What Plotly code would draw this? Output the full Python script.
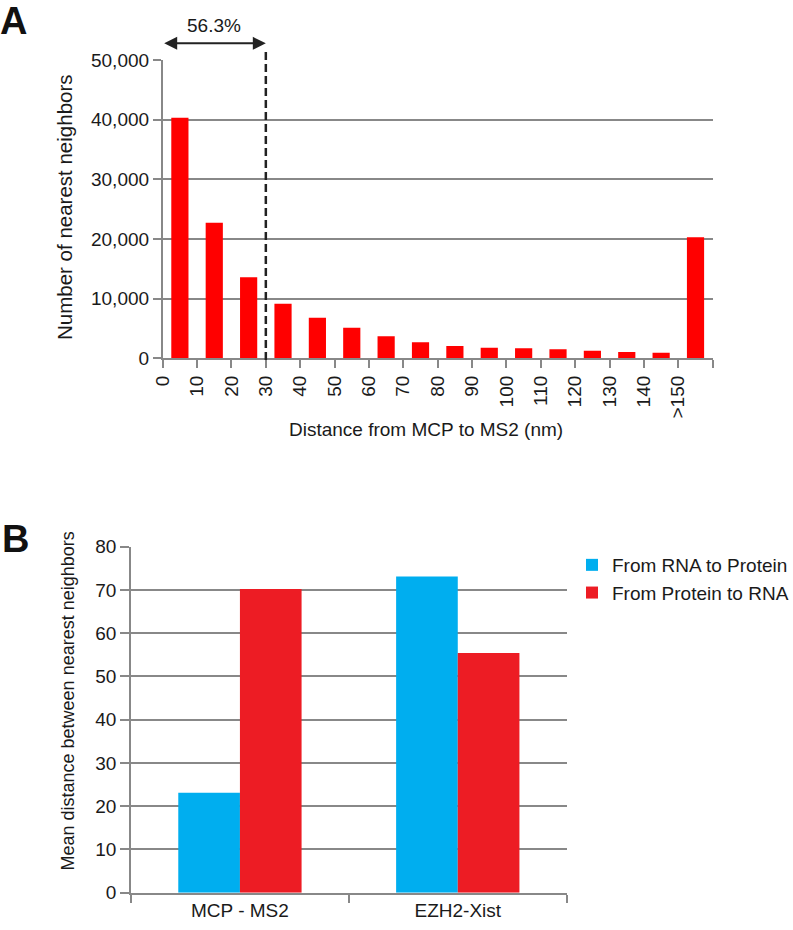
import plotly.graph_objects as go

# ---------------- Data ----------------
# Panel A: histogram of distances from MCP to MS2 (nm)
bin_labels = ["0", "10", "20", "30", "40", "50", "60", "70", "80", "90",
              "100", "110", "120", "130", "140", ">150"]
bin_counts = [40300, 22700, 13600, 9150, 6800, 5100, 3700, 2700, 2050,
              1770, 1670, 1500, 1270, 1050, 930, 20300]
cutoff_bin = 3          # 30 nm boundary (dashed line)
cutoff_text = "56.3%"

# Panel B: mean distances
pair_names = ["MCP - MS2", "EZH2-Xist"]
rna_to_protein = [23.1, 73.1]
protein_to_rna = [70.2, 55.4]
series_names = ["From RNA to Protein", "From Protein to RNA"]

# ---------------- Styling ----------------
FONT = "Liberation Sans, Arial, Helvetica, sans-serif"
TXT = "#1a1a1a"
GRID = "#888888"
W, H = 793, 930

fig = go.Figure()

# Panel A bars (centered in each bin; ticks at bin edges)
fig.add_trace(go.Bar(
    x=[i + 0.5 for i in range(len(bin_counts))],
    y=bin_counts,
    width=0.5,
    marker=dict(color="#ff0000", line=dict(width=0)),
    showlegend=False,
    xaxis="x", yaxis="y",
))

# Panel B bars
fig.add_trace(go.Bar(
    x=pair_names, y=rna_to_protein, name=series_names[0],
    marker=dict(color="#00aeef", line=dict(width=0)),
    xaxis="x2", yaxis="y2",
))
fig.add_trace(go.Bar(
    x=pair_names, y=protein_to_rna, name=series_names[1],
    marker=dict(color="#ed1c24", line=dict(width=0)),
    xaxis="x2", yaxis="y2",
))

axis_common = dict(
    showline=True, linecolor=GRID, linewidth=1.6,
    ticks="outside", tickcolor=GRID, tickwidth=1.6,
    tickfont=dict(family=FONT, size=19, color=TXT),
    zeroline=False,
)

fig.update_layout(
    autosize=True,
    margin=dict(l=0, r=0, t=0, b=0, autoexpand=False),
    paper_bgcolor="white", plot_bgcolor="white",
    font=dict(family=FONT, color=TXT),
    barmode="group", bargap=0.434, bargroupgap=0,
    xaxis=dict(
        domain=[162.7 / W, 712.7 / W], anchor="y",
        range=[0, len(bin_labels)],
        tickmode="array",
        tickvals=list(range(len(bin_labels) + 1)),
        ticktext=bin_labels + [""],
        tickangle=-90, ticklen=8, showgrid=False,
        **axis_common,
    ),
    yaxis=dict(
        domain=[(H - 358.3) / H, (H - 60) / H], anchor="x",
        range=[0, 50000], dtick=10000, tickformat=",d",
        showgrid=True, gridcolor=GRID, gridwidth=1.6, ticklen=8,
        **axis_common,
    ),
    xaxis2=dict(
        domain=[131 / W, 566.7 / W], anchor="y2",
        type="category", tickson="boundaries", ticklen=8, showgrid=False,
        **axis_common,
    ),
    yaxis2=dict(
        domain=[(H - 892.7) / H, (H - 546.7) / H], anchor="x2",
        range=[0, 80], dtick=10,
        showgrid=True, gridcolor=GRID, gridwidth=1.6, ticklen=9,
        **axis_common,
    ),
    legend=dict(
        x=572 / W, y=(H - 546) / H, xanchor="left", yanchor="top",
        font=dict(family=FONT, size=19, color=TXT),
        bgcolor="rgba(0,0,0,0)", traceorder="normal",
    ),
)

# Dashed cutoff line at 30 nm
fig.add_shape(
    type="line", xref="x", yref="y domain",
    x0=cutoff_bin, x1=cutoff_bin, y0=-0.006, y1=1.027,
    line=dict(color="#222222", width=2.5, dash="8px,4px"),
)

# Double-headed arrow spanning 0-30 nm
fig.add_annotation(
    xref="x", yref="y domain", axref="x", ayref="y domain",
    x=cutoff_bin, y=1.056, ax=0, ay=1.056,
    text="", showarrow=True, arrowhead=2, arrowside="end+start",
    arrowsize=1.3, arrowwidth=2, arrowcolor="#222222",
)
fig.add_annotation(
    xref="x", yref="y domain", x=cutoff_bin / 2, y=1.117,
    xanchor="center", yanchor="middle",
    text=cutoff_text, showarrow=False,
    font=dict(family=FONT, size=19, color=TXT),
)

# Axis titles
fig.add_annotation(
    xref="paper", yref="paper", x=426 / W, y=(H - 429) / H,
    xanchor="center", yanchor="middle",
    text="Distance from MCP to MS2 (nm)", showarrow=False,
    font=dict(family=FONT, size=19, color=TXT),
)
fig.add_annotation(
    xref="paper", yref="paper", x=65 / W, y=(H - 207) / H,
    xanchor="center", yanchor="middle", textangle=-90,
    text="Number of nearest neighbors", showarrow=False,
    font=dict(family=FONT, size=20.5, color=TXT),
)
fig.add_annotation(
    xref="paper", yref="paper", x=67 / W, y=(H - 701.5) / H,
    xanchor="center", yanchor="middle", textangle=-90,
    text="Mean distance between nearest neighbors", showarrow=False,
    font=dict(family=FONT, size=18, color=TXT),
)

# Panel letters
fig.add_annotation(
    xref="paper", yref="paper", x=13 / W, y=(H - 20.5) / H,
    xanchor="center", yanchor="middle",
    text="<b>A</b>", showarrow=False,
    font=dict(family=FONT, size=38, color="#111111"),
)
fig.add_annotation(
    xref="paper", yref="paper", x=15 / W, y=(H - 539) / H,
    xanchor="center", yanchor="middle",
    text="<b>B</b>", showarrow=False,
    font=dict(family=FONT, size=38, color="#111111"),
)

fig.write_html(
    "out.html",
    config={"displayModeBar": False},
    default_width=f"{W}px",
    default_height=f"{H}px; position:absolute; left:0; top:0",
)
